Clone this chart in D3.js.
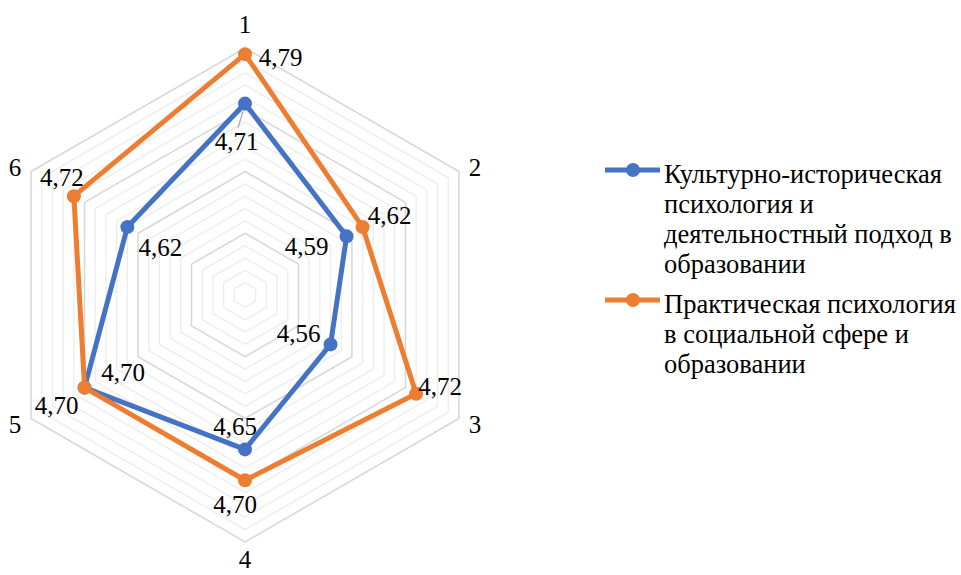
<!DOCTYPE html>
<html><head><meta charset="utf-8">
<script src="https://cdn.jsdelivr.net/npm/d3@7"></script>
<style>
html,body{margin:0;padding:0;background:#fff;}
svg{display:block;}
text{font-family:"Liberation Serif","Tinos","DejaVu Serif","Noto Serif","Times New Roman",serif;fill:#000;}
</style></head>
<body>
<svg id="chart" width="961" height="575"></svg>
<script>
// ---- data ----
const categories = ["1","2","3","4","5","6"];
const seriesNames = [
  ["Культурно-историческая","психология и","деятельностный подход в","образовании"],
  ["Практическая психология","в социальной сфере и","образовании"]
];
const seriesBlue = [4.71, 4.59, 4.56, 4.65, 4.70, 4.62];
const seriesOrange = [4.79, 4.62, 4.72, 4.70, 4.70, 4.72];
const axisMin = 4.4, axisMax = 4.8, majorStep = 0.1, minorStep = 0.02;

// ---- styles / layout ----
const colors = ["#4472C4", "#ED7D31"];
const cx = 245, cy = 295, R = 247;
const fontSize = 25, legendFontSize = 26.5;
// label offsets (dx, dy of text centre/baseline from point)
const labelOffsets = [
  [[-8.5, 46.5], [-40, 19], [-32, -2], [-10, -14], [38.5, -6.5], [33, 29]],
  [[35.5, 12], [27, -3], [24, 1], [-10, 33], [-28, 26.5], [-12, -10]]
];

const svg = d3.select("#chart");
const r = d3.scaleLinear().domain([axisMin, axisMax]).range([0, R]);
const angle = d3.scaleLinear().domain([0, categories.length]).range([0, 2*Math.PI]);
const pt = (i, v) => {
  const a = angle(i);
  return [cx + r(v)*Math.sin(a), cy - r(v)*Math.cos(a)];
};

// gridlines
const levels = d3.range(Math.round((axisMax-axisMin)/minorStep)).map(k => +(axisMin + (k+1)*minorStep).toFixed(2));
const isMajor = v => Math.abs(Math.round((v-axisMin)/majorStep)*majorStep - (v-axisMin)) < 1e-6;
const grid = svg.append("g");
levels.filter(v => !isMajor(v)).forEach(v => {
  grid.append("path")
    .attr("d", d3.line()(categories.map((c,i)=>pt(i,v))) + "Z")
    .attr("fill","none").attr("stroke","#ececec").attr("stroke-width",1.3);
});
levels.filter(v => isMajor(v)).forEach(v => {
  grid.append("path")
    .attr("d", d3.line()(categories.map((c,i)=>pt(i,v))) + "Z")
    .attr("fill","none").attr("stroke","#d6d6d6").attr("stroke-width",1.5);
});

// category labels
categories.forEach((c,i) => {
  const a = angle(i);
  const vx = pt(i, axisMax);
  const side = Math.abs(Math.sin(a)) > 0.1;
  let x, y;
  if (!side) {
    x = vx[0];
    y = vx[1] + (Math.cos(a) > 0 ? -15 : 26);
  } else {
    x = vx[0] + Math.sign(Math.sin(a)) * 16;
    y = vx[1] + (Math.cos(a) > 0 ? 4.5 : 14);
  }
  svg.append("text").attr("x", x).attr("y", y)
    .attr("text-anchor","middle").attr("font-size", fontSize).text(c);
});

// leader line for first blue label
const pB1 = pt(0, seriesBlue[0]);
svg.append("line").attr("x1", pB1[0]-2).attr("y1", pB1[1]+8)
  .attr("x2", pB1[0]-7).attr("y2", pB1[1]+24)
  .attr("stroke","#a6a6a6").attr("stroke-width",1.3);

// series
[seriesBlue, seriesOrange].forEach((s, si) => {
  const g = svg.append("g");
  g.append("path")
    .attr("d", d3.line()(s.map((v,i)=>pt(i,v))) + "Z")
    .attr("fill","none").attr("stroke", colors[si]).attr("stroke-width",5)
    .attr("stroke-linejoin","round");
  g.selectAll("circle").data(s).join("circle")
    .attr("cx",(v,i)=>pt(i,v)[0]).attr("cy",(v,i)=>pt(i,v)[1])
    .attr("r",7).attr("fill",colors[si]);
});
// data labels
[seriesBlue, seriesOrange].forEach((s, si) => {
  s.forEach((v,i) => {
    const p = pt(i,v);
    svg.append("text").attr("x", p[0]+labelOffsets[si][i][0]).attr("y", p[1]+labelOffsets[si][i][1])
      .attr("text-anchor","middle").attr("font-size", fontSize)
      .text(v.toFixed(2).replace(".", ","));
  });
});

// legend
const legendX = 605, legendTextX = 664;
const legendTops = [183, 313];
seriesNames.forEach((lines, si) => {
  const y0 = legendTops[si];
  const my = y0 - 13;
  svg.append("line").attr("x1", legendX).attr("x2", legendX+55).attr("y1", my).attr("y2", my)
    .attr("stroke", colors[si]).attr("stroke-width",5);
  svg.append("circle").attr("cx", legendX+28).attr("cy", my).attr("r",7).attr("fill", colors[si]);
  const t = svg.append("text").attr("x", legendTextX).attr("y", y0).attr("font-size", legendFontSize);
  lines.forEach((ln, k) => {
    t.append("tspan").attr("x", legendTextX).attr("y", y0 + k*30).text(ln);
  });
});
</script>
</body></html>
